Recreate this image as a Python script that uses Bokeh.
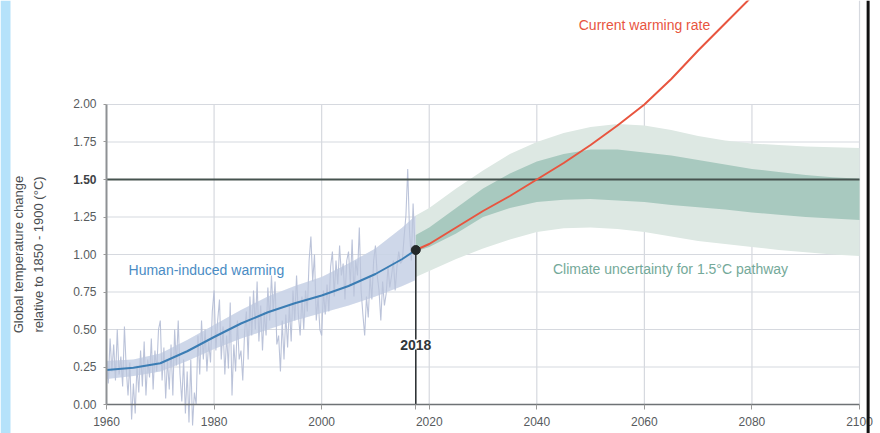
import numpy as np
from bokeh.plotting import figure
from bokeh.models import Range1d, FixedTicker, Span, Label, NumeralTickFormatter, BoxAnnotation
from bokeh.embed import file_html
from bokeh.resources import INLINE

# ---------------- data ----------------
X_TICKS = [1960, 1980, 2000, 2020, 2040, 2060, 2080, 2100]
Y_TICKS = [0.0, 0.25, 0.5, 0.75, 1.0, 1.25, 1.5, 1.75, 2.0]
LIMIT = 1.5
MARK_YEAR = 2017.5
MARK_VALUE = 1.03
MARK_LABEL = "2018"

# human-induced warming (smooth line) and its likely range
hist_years = [1960, 1965, 1970, 1975, 1980, 1985, 1990, 1995, 2000, 2005, 2010, 2015, 2017.5]
hist_line = [0.23, 0.245, 0.275, 0.355, 0.45, 0.54, 0.615, 0.675, 0.727, 0.79, 0.87, 0.97, 1.03]
hist_upper = [0.29, 0.30, 0.34, 0.43, 0.53, 0.63, 0.72, 0.79, 0.85, 0.94, 1.04, 1.18, 1.26]
hist_lower = [0.17, 0.19, 0.22, 0.29, 0.37, 0.44, 0.50, 0.56, 0.61, 0.66, 0.72, 0.79, 0.83]

# observed temperatures, three readings per year from 1960
obs_start = 1960.0
obs_per_year = 3
obs_values = [
    0.30, 0.14, 0.44, 0.22, 0.40, 0.16, 0.50, 0.20, 0.32, 0.12, 0.52, 0.24,
    0.06, 0.28, -0.10, 0.14, -0.06, 0.26, 0.08, 0.36, 0.12, 0.42, 0.06, 0.30,
    0.18, 0.44, 0.10, 0.36, 0.22, 0.50, 0.56, 0.16, 0.38, 0.04, 0.30, 0.10,
    0.40, 0.06, 0.50, 0.26, 0.56, 0.20, 0.02, 0.30, -0.06, 0.22, -0.12, 0.30,
    -0.14, 0.08, 0.00, 0.46, 0.20, 0.56, 0.30, 0.50, 0.22, 0.42, 0.28, 0.62,
    0.76, 0.36, 0.56, 0.70, 0.30, 0.52, 0.20, 0.46, 0.24, 0.68, 0.06, 0.40,
    0.22, 0.56, 0.30, 0.36, 0.16, 0.48, 0.62, 0.30, 0.72, 0.46, 0.76, 0.50,
    0.82, 0.42, 0.66, 0.36, 0.62, 0.46, 0.78, 0.56, 0.86, 0.62, 0.82, 0.40,
    0.46, 0.22, 0.56, 0.30, 0.60, 0.38, 0.66, 0.42, 0.76, 0.56, 0.86, 0.60,
    0.46, 0.72, 0.50, 0.76, 0.62, 0.96, 1.12, 0.82, 1.00, 0.56, 0.72, 0.50,
    0.46, 0.76, 0.60, 0.80, 0.62, 0.92, 1.02, 0.72, 0.96, 0.80, 1.06, 0.86,
    0.94, 0.70, 0.96, 1.02, 0.80, 1.10, 0.72, 0.96, 0.86, 1.18, 0.76, 0.60,
    0.46, 0.72, 0.58, 0.86, 0.70, 0.96, 1.06, 0.86, 0.76, 0.56, 0.82, 0.66,
    0.74, 0.92, 0.78, 0.86, 0.96, 0.76, 0.92, 1.02, 0.94, 0.96, 1.12, 1.26,
    1.57, 1.16, 0.96, 1.34, 1.06,
]

# projections
future_years = [2017.5, 2020, 2025, 2030, 2035, 2040, 2045, 2050, 2055, 2060,
                2065, 2070, 2075, 2080, 2085, 2090, 2095, 2100]
outer_upper = [1.26, 1.31, 1.44, 1.56, 1.67, 1.75, 1.81, 1.85, 1.87, 1.86,
               1.83, 1.79, 1.76, 1.74, 1.73, 1.72, 1.715, 1.71]
outer_lower = [0.85, 0.89, 0.97, 1.04, 1.10, 1.15, 1.175, 1.18, 1.17, 1.15,
               1.12, 1.09, 1.07, 1.05, 1.03, 1.015, 1.00, 0.99]
inner_upper = [1.13, 1.18, 1.31, 1.44, 1.54, 1.62, 1.67, 1.70, 1.70, 1.68,
               1.66, 1.63, 1.60, 1.57, 1.55, 1.53, 1.515, 1.505]
inner_lower = [1.02, 1.05, 1.14, 1.25, 1.31, 1.35, 1.365, 1.37, 1.36, 1.35,
               1.33, 1.315, 1.30, 1.28, 1.265, 1.25, 1.24, 1.23]

rate_years = [2017.5, 2020, 2025, 2030, 2035, 2040, 2045, 2050, 2055, 2060, 2065, 2070, 2075, 2080]
rate_values = [1.03, 1.07, 1.18, 1.29, 1.39, 1.50, 1.61, 1.73, 1.86, 2.00, 2.17, 2.36, 2.54, 2.72]

obs_years = [obs_start + i / obs_per_year for i in range(len(obs_values))]

# ---------------- styling ----------------
FONT = "Liberation Sans"
GRID = "#d6d9df"
BLUE = "#3b7db4"
BLUE_TXT = "#4a8cc4"
BAND_BLUE = "#c9d2e6"
OBS = "#b4bcd5"
LIGHT_GREEN = "#dde8e3"
DARK_GREEN = "#a8c9bf"
RED = "#e8553f"
GREEN_TXT = "#74a999"

W, H = 880, 433
X_START, X_END = 1940.29, 2103.9
Y_START, Y_TOP = -0.1933, 2.6933
p = figure(width=W, height=H, output_backend="svg", toolbar_location=None,
           x_range=Range1d(X_START, X_END), y_range=Range1d(Y_START, Y_TOP),
           min_border_left=0, min_border_right=0, min_border_top=0, min_border_bottom=0)
p.outline_line_color = None
p.background_fill_color = "white"
p.xgrid.visible = False
p.ygrid.visible = False

# light-blue strip at the left edge of the screenshot
p.add_layout(BoxAnnotation(left=0, right=10, left_units="screen", right_units="screen",
                           fill_color="#b5e2fa", fill_alpha=1, line_color=None, level="underlay"))

# grid lines (from tick lists)
x_lo, x_hi = min(X_TICKS), max(X_TICKS)
y0, y1 = min(Y_TICKS), max(Y_TICKS)
p.segment(x0=X_TICKS[1:-1], y0=[y0] * (len(X_TICKS) - 2), x1=X_TICKS[1:-1], y1=[y1] * (len(X_TICKS) - 2),
          line_color=GRID, line_width=1.2)
p.segment(x0=[x_hi], y0=[y0], x1=[x_hi], y1=[Y_TOP], line_color=GRID, line_width=1.2)
p.segment(x0=[x_lo] * (len(Y_TICKS) - 1), y0=Y_TICKS[1:],
          x1=[x_hi] * (len(Y_TICKS) - 1), y1=Y_TICKS[1:], line_color=GRID, line_width=1.2)

# bands
p.varea(x=hist_years, y1=hist_lower, y2=hist_upper, fill_color=BAND_BLUE, fill_alpha=0.85)
p.line(obs_years, obs_values, line_color=OBS, line_width=1.1, line_alpha=0.9)
p.varea(x=hist_years, y1=hist_lower, y2=hist_upper, fill_color=BAND_BLUE, fill_alpha=0.25)
p.line(hist_years, hist_line, line_color=BLUE, line_width=2)

p.varea(x=future_years, y1=outer_lower, y2=outer_upper, fill_color=LIGHT_GREEN, fill_alpha=1)
p.varea(x=future_years, y1=inner_lower, y2=inner_upper, fill_color=DARK_GREEN, fill_alpha=1)

# 1.5 °C line across the axis span
p.segment(x0=[x_lo], y0=[LIMIT], x1=[x_hi], y1=[LIMIT], line_color="#46534f", line_width=2.2)
p.line(rate_years, rate_values, line_color=RED, line_width=2)

# 2018 marker
p.segment(x0=[MARK_YEAR], y0=[MARK_VALUE], x1=[MARK_YEAR], y1=[y0], line_color="#2f3436", line_width=1.6)
p.scatter([MARK_YEAR], [MARK_VALUE], size=9, color="#23282a")
p.add_layout(Label(x=MARK_YEAR, y=0.40, text=MARK_LABEL, text_align="center", text_baseline="middle",
                   text_font=FONT, text_font_size="14px", text_font_style="bold", text_color="#30363a",
                   background_fill_color="white", background_fill_alpha=1.0))

# annotations
p.add_layout(Label(x=1964.1, y=0.90, text="Human-induced warming", text_baseline="middle",
                   text_font=FONT, text_font_size="14px", text_color=BLUE_TXT))
p.add_layout(Label(x=2043.0, y=0.905, text="Climate uncertainty for 1.5°C pathway", text_baseline="middle",
                   text_font=FONT, text_font_size="14px", text_color=GREEN_TXT))
p.add_layout(Label(x=2047.8, y=2.533, text="Current warming rate", text_baseline="middle",
                   text_font=FONT, text_font_size="14px", text_color=RED))

# border line at the right of the screenshot
p.add_layout(Span(location=2101.6, dimension="height", line_color="#111111", line_width=3))

# axes (drawn inside the frame)
xa = p.xaxis[0]
xa.ticker = FixedTicker(ticks=X_TICKS + [MARK_YEAR])
xa.major_label_overrides = {MARK_YEAR: " "}
xa.bounds = (x_lo, x_hi)
xa.fixed_location = 0
xa.axis_line_color = "#6e7275"
xa.axis_line_width = 1.6
xa.major_tick_out = 5
xa.major_tick_in = 0
xa.major_tick_line_color = "#9a9a9a"
xa.minor_tick_line_color = None
xa.major_label_standoff = 5
xa.major_label_text_font = FONT
xa.major_label_text_font_size = "12px"
xa.major_label_text_color = "#575b5e"

ya = p.yaxis[0]
ya.ticker = FixedTicker(ticks=Y_TICKS)
ya.bounds = (y0, y1)
ya.fixed_location = x_lo
ya.formatter = NumeralTickFormatter(format="0.00")
ya.major_label_overrides = {LIMIT: " "}
ya.axis_line_color = "#8e9194"
ya.axis_line_width = 2
ya.major_tick_out = 3
ya.major_tick_in = 0
ya.major_tick_line_color = "#9a9a9a"
ya.minor_tick_line_color = None
ya.major_label_standoff = 7
ya.major_label_text_font = FONT
ya.major_label_text_font_size = "12px"
ya.major_label_text_color = "#575b5e"

p.add_layout(Label(x=x_lo, y=LIMIT, x_offset=-10, text="1.50", text_align="right",
                   text_baseline="middle", text_font=FONT, text_font_size="12px",
                   text_font_style="bold", text_color="#3e4245"))

# y-axis title (two lines)
for txt, off in (("Global temperature change", -88.5), ("relative to 1850 - 1900 (°C)", -68.5)):
    p.add_layout(Label(x=x_lo, y=1.0, x_offset=off, text=txt, angle=90, angle_units="deg",
                       text_align="center", text_baseline="middle", text_font=FONT,
                       text_font_size="13px", text_color="#4a4e51"))

open("out.html", "w").write(file_html(p, INLINE))
